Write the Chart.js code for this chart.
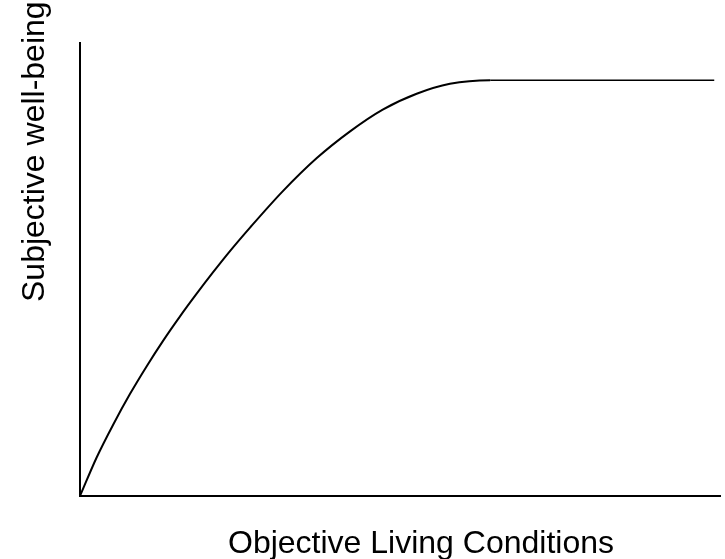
<!DOCTYPE html>
<html>
<head>
<meta charset="utf-8">
<script src="https://cdn.jsdelivr.net/npm/chart.js@4"></script>
<style>
  html, body { margin: 0; padding: 0; background: #fff; }
  #wrap { width: 725px; height: 559px; }
</style>
</head>
<body>
<div id="wrap"><canvas id="chart"></canvas></div>
<script>
// scale 0..100 on both axes
const livingConditions = [0, 2.6, 5.2, 7.8, 10.4, 13.0, 15.6, 18.2, 20.8, 23.4, 26.6, 31.7, 37.0, 42.2, 47.3, 52.6, 57.8, 64.1, 99.1];
const wellBeing = [0, 8.5, 15.8, 22.5, 28.6, 34.3, 39.6, 44.6, 49.4, 54.0, 59.3, 67.3, 74.6, 80.5, 85.3, 88.8, 91.0, 91.8, 91.8];

const xTitle = 'Objective Living Conditions';
const yTitle = 'Subjective well-being';

const titleFont = '32px "Liberation Sans", Arial, sans-serif';

const axisTitles = {
    id: 'axisTitles',
    afterDraw(chart) {
        const ctx = chart.ctx;
        ctx.save();
        ctx.fillStyle = '#000';
        ctx.font = titleFont;
        ctx.textBaseline = 'alphabetic';
        ctx.textAlign = 'center';
        ctx.fillText(xTitle, 421, 553);
        ctx.translate(44, 302);
        ctx.rotate(-Math.PI / 2);
        ctx.textAlign = 'left';
        ctx.fillText(yTitle, 0, 0);
        ctx.restore();
    }
};

const points = livingConditions.map((x, i) => ({ x: x, y: wellBeing[i] }));

const axisOpts = {
    min: 0, max: 100,
    grid: { display: false, drawTicks: false, tickLength: 0 },
    border: { display: true, color: '#000', width: 2 },
    ticks: { display: false, padding: 0 }
};

new Chart(document.getElementById('chart'), {
    type: 'scatter',
    data: {
        datasets: [{
            data: points,
            showLine: true,
            borderColor: '#000',
            borderWidth: 2,
            pointRadius: 0,
            cubicInterpolationMode: 'monotone',
            segment: {
                borderWidth: ctx => ctx.p0DataIndex === livingConditions.length - 2 ? 1.5 : 2
            }
        }]
    },
    options: {
        responsive: true,
        maintainAspectRatio: false,
        animation: false,
        layout: { padding: { left: 80, top: 43, right: 5, bottom: 63 } },
        plugins: {
            legend: { display: false },
            tooltip: { enabled: false }
        },
        scales: {
            x: axisOpts,
            y: axisOpts
        }
    },
    plugins: [axisTitles]
});
</script>
</body>
</html>
